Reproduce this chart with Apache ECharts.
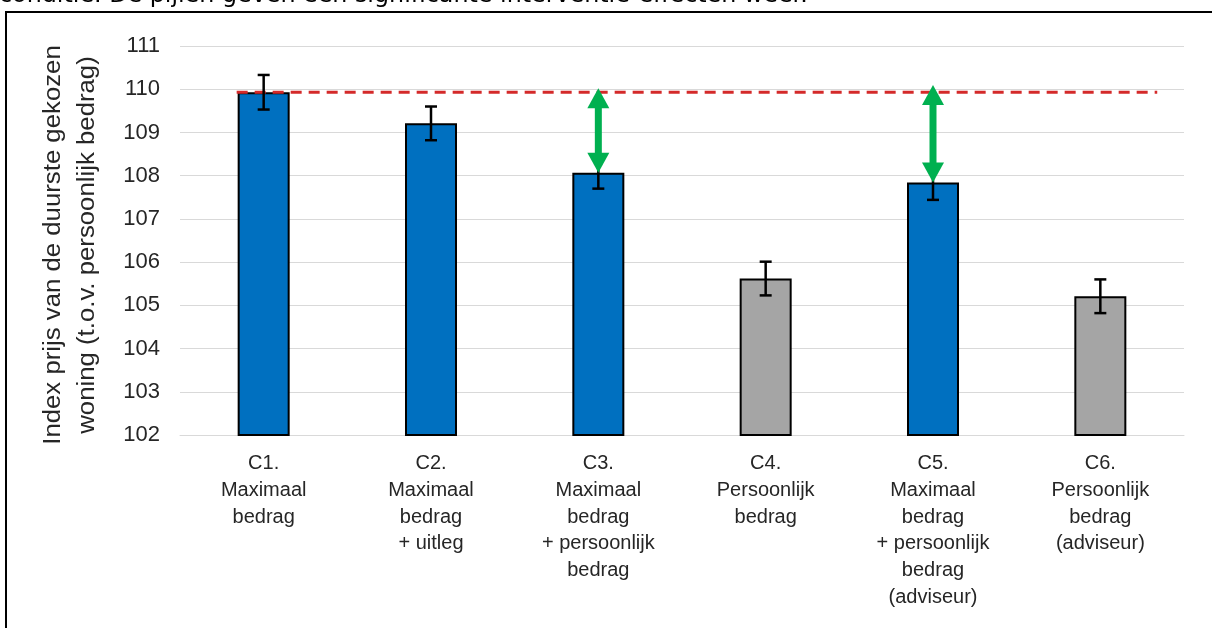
<!DOCTYPE html>
<html><head><meta charset="utf-8">
<script src="https://cdn.jsdelivr.net/npm/echarts@6/dist/echarts.min.js"></script>
<style>html,body{margin:0;padding:0;background:#fff;overflow:hidden}#c{width:1212px;height:628px}</style>
</head><body><div id="c"></div>
<script>
const categories = [
  'C1.\nMaximaal\nbedrag',
  'C2.\nMaximaal\nbedrag\n+ uitleg',
  'C3.\nMaximaal\nbedrag\n+ persoonlijk\nbedrag',
  'C4.\nPersoonlijk\nbedrag',
  'C5.\nMaximaal\nbedrag\n+ persoonlijk\nbedrag\n(adviseur)',
  'C6.\nPersoonlijk\nbedrag\n(adviseur)'
];
const values = [109.93, 109.21, 108.07, 105.62, 107.84, 105.21];
const errors = [0.40, 0.39, 0.37, 0.39, 0.40, 0.39];
const amountType = ['maximaal', 'maximaal', 'maximaal', 'persoonlijk', 'maximaal', 'persoonlijk'];
const referenceLevel = 109.93;
const arrowsData = [[2, 110.02, 108.07], [4, 110.10, 107.84]];
const yMin = 102, yMax = 111, yInterval = 1;
const yTitle = 'Index prijs van de duurste gekozen\nwoning (t.o.v. persoonlijk bedrag)';
const caption = 'conditie. De pijlen geven een significante interventie-effecten weer.';

const chart = echarts.init(document.getElementById('c'), null, {renderer: 'canvas'});
const typeColor = {maximaal: '#0070C0', persoonlijk: '#A5A5A5'};
const FONT = '"Liberation Sans", Arial, sans-serif';
const BAR_W = 52;

const errData = values.map((v, i) => [i, v - errors[i], v + errors[i]]);

const option = {
  animation: false,
  backgroundColor: '#fff',
  grid: {left: 180, right: 28, top: 46, bottom: 193, containLabel: false},
  xAxis: {
    type: 'category',
    data: categories,
    axisLine: {show: true, lineStyle: {color: '#D9D9D9', width: 1}},
    axisTick: {show: false},
    axisLabel: {interval: 0, margin: 15, fontFamily: FONT, fontSize: 20, lineHeight: 26.8, color: '#262626', align: 'center'}
  },
  yAxis: {
    type: 'value', min: yMin, max: yMax, interval: yInterval,
    axisLine: {show: false}, axisTick: {show: false},
    splitLine: {lineStyle: {color: '#D9D9D9', width: 1}},
    axisLabel: {margin: 20, fontFamily: FONT, fontSize: 22, color: '#262626'}
  },
  graphic: [
    {type: 'rect', shape: {x: 6, y: 12, width: 1300, height: 700}, style: {fill: 'none', stroke: '#000', lineWidth: 2}, silent: true},
    {type: 'text', x: -1, y: -4.5, style: {text: caption, font: '23.8px "DejaVu Sans"', fill: '#000', textVerticalAlign: 'middle', verticalAlign: 'middle'}, silent: true},
    {type: 'text', x: 71, y: 245, rotation: Math.PI / 2, scaleX: 1.12,
     style: {text: yTitle, font: '23px ' + FONT, fill: '#262626', textAlign: 'center', align: 'center', textVerticalAlign: 'middle', verticalAlign: 'middle', lineHeight: 34}, silent: true}
  ],
  series: [
    {
      type: 'bar', barWidth: BAR_W, z: 2,
      data: values.map((v, i) => ({value: v, itemStyle: {color: typeColor[amountType[i]]}})),
      itemStyle: {borderColor: '#000', borderWidth: 2}
    },
    {
      type: 'custom', z: 3,
      data: [[0, referenceLevel, 5]],
      encode: {x: 0, y: 1},
      renderItem: function (params, api) {
        const p0 = api.coord([api.value(0), api.value(1)]);
        const p1 = api.coord([api.value(2), api.value(1)]);
        const band = api.size([1, 0])[0];
        return {
          type: 'line',
          shape: {x1: p0[0] - BAR_W / 2 - 1, y1: p0[1], x2: p1[0] + band * 0.34, y2: p0[1]},
          style: {stroke: '#D42A2A', lineWidth: 3, lineDash: [11, 7]}
        };
      }
    },
    {
      type: 'custom', z: 4,
      data: errData,
      encode: {x: 0, y: [1, 2]},
      renderItem: function (params, api) {
        const lo = api.coord([api.value(0), api.value(1)]);
        const hi = api.coord([api.value(0), api.value(2)]);
        const x = lo[0], c = 6;
        const st = {stroke: '#000', lineWidth: 2.5};
        return {type: 'group', children: [
          {type: 'line', shape: {x1: x, y1: lo[1], x2: x, y2: hi[1]}, style: st},
          {type: 'line', shape: {x1: x - c, y1: lo[1], x2: x + c, y2: lo[1]}, style: st},
          {type: 'line', shape: {x1: x - c, y1: hi[1], x2: x + c, y2: hi[1]}, style: st}
        ]};
      }
    },
    {
      type: 'custom', z: 5,
      data: arrowsData,
      encode: {x: 0, y: [1, 2]},
      renderItem: function (params, api) {
        const t = api.coord([api.value(0), api.value(1)]);
        const b = api.coord([api.value(0), api.value(2)]);
        const x = t[0], hw = 11, hh = 20;
        const fill = {fill: '#00B050'};
        return {type: 'group', children: [
          {type: 'line', shape: {x1: x, y1: t[1] + hh - 2, x2: x, y2: b[1] - hh + 2}, style: {stroke: '#00B050', lineWidth: 7}},
          {type: 'polygon', shape: {points: [[x, t[1]], [x - hw, t[1] + hh], [x + hw, t[1] + hh]]}, style: fill},
          {type: 'polygon', shape: {points: [[x, b[1]], [x - hw, b[1] - hh], [x + hw, b[1] - hh]]}, style: fill}
        ]};
      }
    }
  ]
};
chart.setOption(option);
</script>
</body></html>
